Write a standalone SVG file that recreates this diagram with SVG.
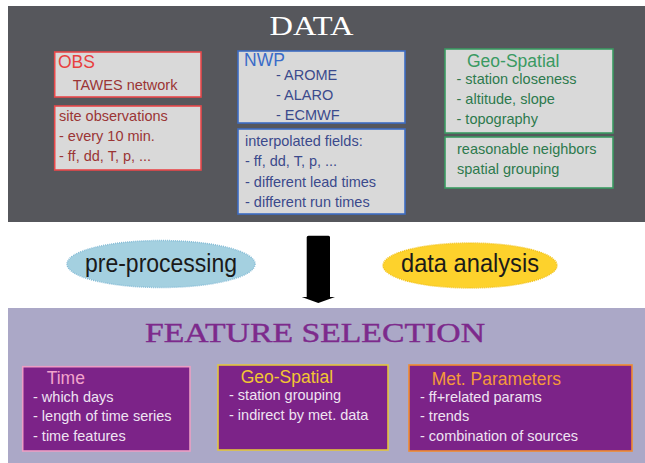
<svg xmlns="http://www.w3.org/2000/svg" width="645" height="463" viewBox="0 0 645 463">
<style>
text{font-family:"Liberation Sans","DejaVu Sans",sans-serif;font-size:14.5px}
.ttl{font-size:17.5px}
.head{font-family:"Liberation Serif","DejaVu Serif",serif;font-size:27px}
.gbox{fill:#d9d9d9;stroke-width:1.6}
.pbox{fill:#7c2388;stroke-width:1.6}
.obs{stroke:#e8484a}.nwp{stroke:#3d6cc2}.geo{stroke:#3a9a62}
.wt{fill:#efe3f2}
.ell{font-size:25.5px;fill:#1a1a1a}
</style>
<rect x="8" y="6" width="637" height="216" fill="#56575c"/>
<rect x="8" y="308" width="637" height="155" fill="#aba8c7"/>
<text class="head" x="269.5" y="35" fill="#ffffff" textLength="84" lengthAdjust="spacingAndGlyphs">DATA</text>
<text class="head" x="145" y="341.5" fill="#7d2a8c" font-size="23.5" textLength="340" lengthAdjust="spacingAndGlyphs" stroke="#7d2a8c" stroke-width="0.4">FEATURE SELECTION</text>

<g id="obs">
<rect class="gbox obs" x="54.7" y="52" width="146.3" height="45"/>
<text class="ttl" x="58" y="68" fill="#e8403f">OBS</text>
<text x="72.7" y="90" fill="#9b3535">TAWES network</text>
</g>
<g id="site-obs">
<rect class="gbox obs" x="54.7" y="106" width="146.3" height="64"/>
<text x="59" y="121" fill="#9b3535">site observations</text>
<text x="59" y="141" fill="#9b3535">- every 10 min.</text>
<text x="59" y="161" fill="#9b3535">- ff, dd, T, p, ...</text>
</g>
<g id="nwp">
<rect class="gbox nwp" x="238" y="51" width="167" height="72"/>
<text class="ttl" x="244" y="66" fill="#3a6cc8">NWP</text>
<text x="276" y="80" fill="#3b4a8c">- AROME</text>
<text x="276" y="100" fill="#3b4a8c">- ALARO</text>
<text x="276" y="120" fill="#3b4a8c">- ECMWF</text>
</g>
<g id="interp">
<rect class="gbox nwp" x="238" y="129" width="167" height="85"/>
<text x="245" y="146" fill="#3b4a8c">interpolated fields:</text>
<text x="245" y="166" fill="#3b4a8c">- ff, dd, T, p, ...</text>
<text x="245" y="186.5" fill="#3b4a8c">- different lead times</text>
<text x="245" y="206.5" fill="#3b4a8c">- different run times</text>
</g>
<g id="geo-data">
<rect class="gbox geo" x="445" y="49" width="168" height="84"/>
<text class="ttl" x="467" y="66.5" fill="#3a9a62">Geo-Spatial</text>
<text x="456.5" y="84" fill="#2d7a4d">- station closeness</text>
<text x="456.5" y="104" fill="#2d7a4d">- altitude, slope</text>
<text x="456.5" y="123.5" fill="#2d7a4d">- topography</text>
</g>
<g id="geo-neigh">
<rect class="gbox geo" x="445" y="137" width="168" height="51"/>
<text x="457" y="153.5" fill="#2d7a4d">reasonable neighbors</text>
<text x="457" y="173.5" fill="#2d7a4d">spatial grouping</text>
</g>

<g id="pre-processing">
<ellipse cx="161" cy="264" rx="94" ry="23.5" fill="#a4d0e0" stroke="#86bcd6" stroke-width="1.5" stroke-dasharray="1 1"/>
<text class="ell" x="161" y="271.5" text-anchor="middle" textLength="152" lengthAdjust="spacingAndGlyphs">pre-processing</text>
</g>
<g id="data-analysis">
<ellipse cx="470" cy="265.5" rx="87" ry="22.5" fill="#fdd22c" stroke="#f2c21a" stroke-width="1.5" stroke-dasharray="1 1"/>
<text class="ell" x="470" y="271.5" text-anchor="middle" textLength="138" lengthAdjust="spacingAndGlyphs">data analysis</text>
</g>

<g id="connectors">
<path d="M308.5,235.7 H328.5 Q330,235.7 330,237.2 V297 H335 L318.3,303 L301.7,297 H306.7 V237.2 Q306.7,235.7 308.5,235.7 Z" fill="#000000"/>
</g>

<g id="time">
<rect class="pbox" x="22.7" y="366.7" width="167.3" height="84.3" stroke="#eb9ec4"/>
<text class="ttl" x="46.7" y="384.3" fill="#f2a4cc">Time</text>
<text class="wt" x="33" y="401.7">- which days</text>
<text class="wt" x="33" y="421">- length of time series</text>
<text class="wt" x="33" y="441">- time features</text>
</g>
<g id="geo-feat">
<rect class="pbox" x="218" y="365" width="170" height="85" stroke="#e2c43e"/>
<text class="ttl" x="240.7" y="382.7" fill="#f2c632">Geo-Spatial</text>
<text class="wt" x="229" y="400">- station grouping</text>
<text class="wt" x="229" y="420">- indirect by met. data</text>
</g>
<g id="met">
<rect class="pbox" x="409" y="365" width="223" height="86" stroke="#f08a30"/>
<text class="ttl" x="431.7" y="385" fill="#f59a3a">Met. Parameters</text>
<text class="wt" x="420" y="401.7">- ff+related params</text>
<text class="wt" x="420" y="421">- trends</text>
<text class="wt" x="420" y="441">- combination of sources</text>
</g>
</svg>
